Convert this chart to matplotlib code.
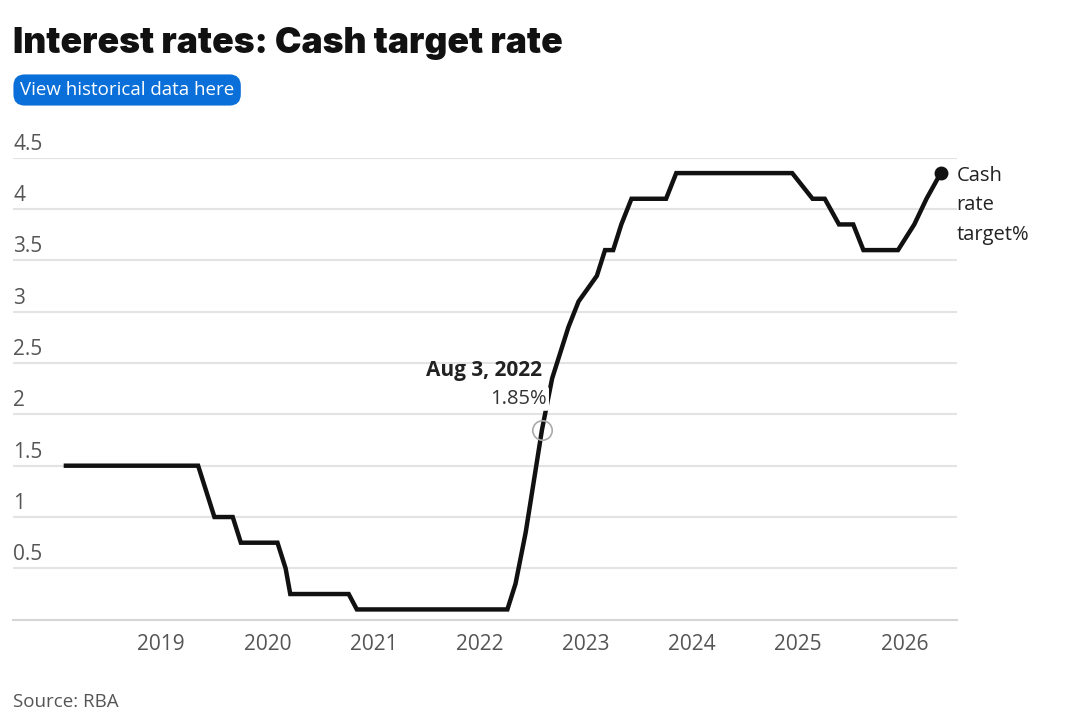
import matplotlib.pyplot as plt
import matplotlib.dates as mdates
import matplotlib.transforms as mtransforms
import pandas as pd

# Cash rate target (%), effective dates
dates = ["2018-02-07", "2019-05-08", "2019-06-05", "2019-07-03", "2019-09-04",
         "2019-10-02", "2020-02-05", "2020-03-04", "2020-03-20", "2020-10-07",
         "2020-11-04", "2022-04-06", "2022-05-04", "2022-06-08", "2022-07-06",
         "2022-08-03", "2022-09-07", "2022-10-05", "2022-11-02", "2022-12-07",
         "2023-02-08", "2023-03-08", "2023-04-05", "2023-05-03", "2023-06-07",
         "2023-10-04", "2023-11-08", "2024-12-11", "2025-02-19", "2025-04-02",
         "2025-05-21", "2025-07-09", "2025-08-13", "2025-12-10", "2026-02-04",
         "2026-03-18", "2026-05-06"]
rates = [1.5, 1.5, 1.25, 1.0, 1.0,
         0.75, 0.75, 0.5, 0.25, 0.25,
         0.1, 0.1, 0.35, 0.85, 1.35,
         1.85, 2.35, 2.6, 2.85, 3.1,
         3.35, 3.6, 3.6, 3.85, 4.1,
         4.1, 4.35, 4.35, 4.1, 4.1,
         3.85, 3.85, 3.6, 3.6, 3.85,
         4.1, 4.35]

y_ticks = [0.5, 1, 1.5, 2, 2.5, 3, 3.5, 4, 4.5]
y_labels = ["0.5", "1", "1.5", "2", "2.5", "3", "3.5", "4", "4.5"]
x_years = [2019, 2020, 2021, 2022, 2023, 2024, 2025, 2026]

hl_date = "2022-08-03"
hl_label = "Aug 3, 2022"

df = pd.DataFrame({"date": pd.to_datetime(dates), "rate": rates})

plt.rcParams['font.family'] = ['Open Sans', 'DejaVu Sans']

fig = plt.figure(figsize=(10.8, 7.25), dpi=100)
ax = fig.add_axes([13 / 1080, 1 - 619.7 / 725, (957 - 13) / 1080, (619.7 - 157.7) / 725])

ax.plot(df["date"], df["rate"], color="#111111", lw=3.2, solid_joinstyle="miter", zorder=3)

# end marker + label
last = df.iloc[-1]
ax.plot(last["date"], last["rate"], "o", color="#111111", ms=9, zorder=4)
ax.annotate("Cash\nrate\ntarget%", xy=(last["date"], last["rate"]), xytext=(16, 7),
            textcoords="offset pixels", ha="left", va="top", fontsize=14.5,
            color="#222222", linespacing=1.62)

# highlighted point
hp = df[df["date"] == pd.Timestamp(hl_date)].iloc[0]
ax.plot(hp["date"], hp["rate"], "o", mfc="none", mec="#aaaaaa", mew=1.2, ms=14, zorder=5)
ax.annotate(hl_label, xy=(hp["date"], hp["rate"]), xytext=(0, 59),
            textcoords="offset pixels", ha="right", va="center", fontsize=15,
            fontweight="bold", color="#222222", zorder=6)
ax.annotate(f"{hp['rate']:.2f}%", xy=(hp["date"], hp["rate"]), xytext=(5, 31),
            textcoords="offset pixels", ha="right", va="center", fontsize=14.5,
            color="#333333", zorder=6,
            bbox=dict(boxstyle="round,pad=0.1", fc="white", ec="none"))

ax.set_ylim(0, 4.5)
ax.set_xlim(pd.Timestamp("2017-08-09"), pd.Timestamp("2026-07-01"))

ax.set_yticks(y_ticks)
ax.set_yticklabels([])
ax.tick_params(axis="y", length=0)
ax.grid(axis="y", color="#e3e3e3", lw=1.5)
ax.set_axisbelow(True)

trans = mtransforms.blended_transform_factory(ax.transAxes, ax.transData)
for v, lab in zip(y_ticks, y_labels):
    ax.annotate(lab, xy=(0, v), xycoords=trans, xytext=(0, 3), textcoords="offset pixels",
                ha="left", va="bottom", fontsize=15, color="#555555")

ax.set_xticks([pd.Timestamp(f"{y}-01-01") for y in x_years])
ax.xaxis.set_major_formatter(mdates.DateFormatter("%Y"))
ax.tick_params(axis="x", length=0, pad=10, labelsize=15, labelcolor="#555555")

for s in ["top", "right", "left"]:
    ax.spines[s].set_visible(False)
ax.spines["bottom"].set_color("#d6d6d6")
ax.spines["bottom"].set_linewidth(1.5)

fig.text(13 / 1080, 1 - 53 / 725, "Interest rates: Cash target rate", fontsize=25.6,
         fontweight="black", family=["Inter", "DejaVu Sans"], color="#111111", va="baseline")
fig.text(20 / 1080, 1 - 95 / 725, "View historical data here", fontsize=13.5,
         color="white", va="baseline",
         bbox=dict(boxstyle="round,pad=0.35,rounding_size=0.6", fc="#0a6fd8", ec="none"))
fig.text(13 / 1080, 1 - 702 / 725, "Source: RBA", fontsize=13.5, color="#555555", va="center")

fig.savefig("out.png", dpi=100)
